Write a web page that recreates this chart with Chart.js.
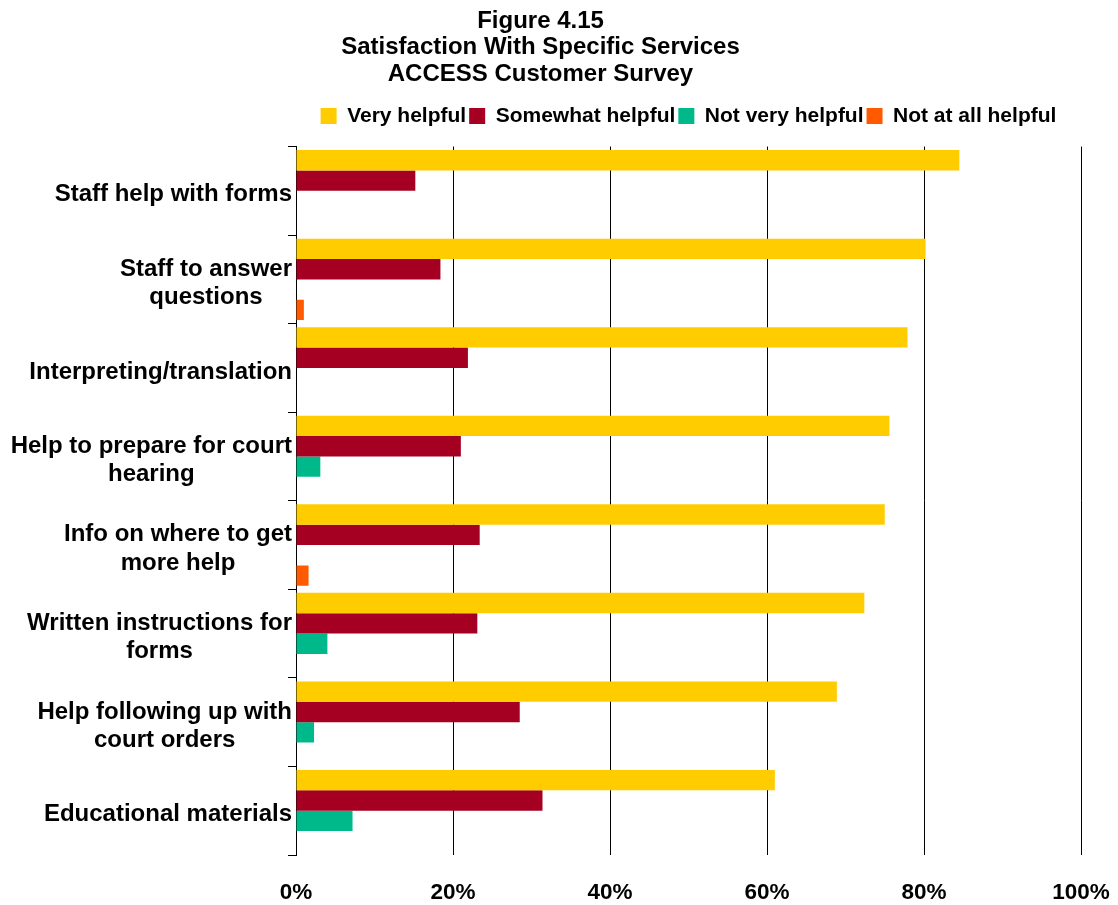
<!DOCTYPE html>
<html>
<head>
<meta charset="utf-8">
<title>Figure 4.15</title>
<script src="https://cdn.jsdelivr.net/npm/chart.js@4/dist/chart.umd.min.js"></script>
<style>
  html, body { margin: 0; padding: 0; background: #fff; }
  #wrap { width: 1118px; height: 905px; }
</style>
</head>
<body>
<div id="wrap"><canvas id="myChart" width="1118" height="905"></canvas></div>
<script>
const categories = [
    ["Staff help with forms"],
    ["Staff to answer", "questions"],
    ["Interpreting/translation"],
    ["Help to prepare for court", "hearing"],
    ["Info on where to get", "more help"],
    ["Written instructions for", "forms"],
    ["Help following up with", "court orders"],
    ["Educational materials"],
];
const seriesNames = ["Very helpful", "Somewhat helpful", "Not very helpful", "Not at all helpful"];
const veryHelpful = [84.5, 80.2, 77.9, 75.6, 75.0, 72.4, 68.9, 61.0];
const somewhatHelpful = [15.2, 18.4, 21.9, 21.0, 23.4, 23.1, 28.5, 31.4];
const notVeryHelpful = [0, 0, 0, 3.1, 0, 4.0, 2.3, 7.2];
const notAtAllHelpful = [0, 1.0, 0, 0, 1.6, 0, 0, 0];
const xTicks = [0, 20, 40, 60, 80, 100];

const FONT = "'Liberation Sans', Arial, sans-serif";
const colors = ["#FFCC00", "#A50021", "#00B98A", "#FF5A00"];

// y labels: each block right aligned to the axis, lines centred inside the block
const categoryLabels = {
    id: "categoryLabels",
    afterDraw(chart) {
        const ctx = chart.ctx;
        const yScale = chart.scales.y;
        const right = yScale.right - 4;
        const lineH = 28.5;
        ctx.save();
        ctx.font = "bold 24px " + FONT;
        ctx.fillStyle = "#000";
        ctx.textAlign = "center";
        ctx.textBaseline = "middle";
        chart.data.labels.forEach((lines, i) => {
            const y = yScale.getPixelForValue(i) + 4;
            const w = Math.max(...lines.map((l) => ctx.measureText(l).width));
            const cx = right - w / 2;
            lines.forEach((line, j) => {
                ctx.fillText(line, cx, y + (j - (lines.length - 1) / 2) * lineH);
            });
        });
        ctx.restore();
    },
};

// extra room between the legend and the plot
const legendGap = {
    id: "legendGap",
    beforeLayout(chart) {
        const legend = chart.legend;
        if (legend && !legend._gapAdded) {
            const fit = legend.fit;
            legend.fit = function () {
                fit.call(this);
                this.height += 10;
            };
            legend._gapAdded = true;
        }
    },
};

const data = {
    labels: categories,
    datasets: [veryHelpful, somewhatHelpful, notVeryHelpful, notAtAllHelpful].map((values, i) => ({
        label: seriesNames[i],
        data: values,
        backgroundColor: colors[i],
        borderWidth: 0,
        categoryPercentage: 0.92,
        barPercentage: 1.0,
    })),
};

const config = {
    type: "bar",
    data: data,
    plugins: [categoryLabels, legendGap],
    options: {
        indexAxis: "y",
        responsive: false,
        animation: false,
        layout: {
            padding: { top: 0, right: 37, bottom: 0, left: 0 },
        },
        scales: {
            x: {
                min: 0,
                max: 100,
                afterBuildTicks(scale) {
                    scale.ticks = xTicks.map((v) => ({ value: v }));
                },
                afterFit(scale) {
                    scale.height = 50;
                },
                grid: {
                    color: "#000",
                    lineWidth: 1,
                    drawTicks: true,
                    tickLength: 24,
                    tickColor: "rgba(0,0,0,0)",
                },
                border: { display: false },
                ticks: {
                    padding: 0.5,
                    color: "#000",
                    font: { family: FONT, size: 22.5, weight: "bold" },
                    callback: (v) => v + "%",
                },
            },
            y: {
                afterFit(scale) {
                    scale.width = 296;
                },
                grid: {
                    color: "#000",
                    lineWidth: 1,
                    drawOnChartArea: false,
                    drawTicks: true,
                    tickLength: 8,
                    offset: true,
                },
                border: { display: true, color: "#000", width: 1 },
                ticks: { display: false },
            },
        },
        plugins: {
            title: {
                display: true,
                text: ["Figure 4.15", "Satisfaction With Specific Services", "ACCESS Customer Survey"],
                color: "#000",
                font: { family: FONT, size: 24, weight: "bold", lineHeight: 1.12 },
                padding: { top: 7.5, bottom: 14.4 },
            },
            legend: {
                position: "top",
                fullSize: false,
                labels: {
                    boxWidth: 16,
                    boxHeight: 16,
                    padding: 3,
                    color: "#000",
                    font: { family: FONT, size: 21, weight: "bold" },
                },
            },
            tooltip: { enabled: false },
        },
    },
};

const ctx = document.getElementById("myChart").getContext("2d");
const myChart = new Chart(ctx, config);
</script>
</body>
</html>
